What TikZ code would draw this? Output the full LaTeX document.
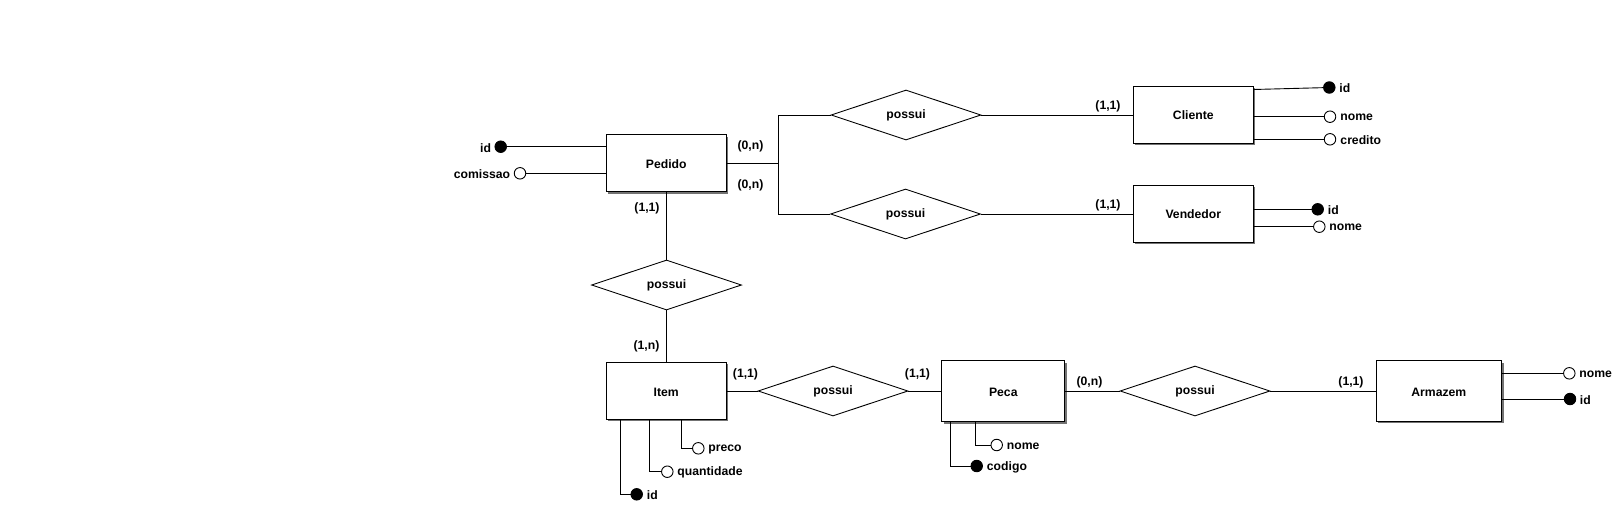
\documentclass[tikz,border=0pt]{standalone}
\usepackage{fontspec}
\setmainfont{Liberation Sans}
\usetikzlibrary{shapes.geometric,shadows}
\begin{document}
\begin{tikzpicture}[x=1pt,y=-1pt, line width=0.9pt,
  every node/.style={font=\fontsize{12.2}{14}\selectfont\bfseries},
  entity/.style={draw, fill=white, rectangle, minimum width=120pt, minimum height=57pt, inner sep=0pt,
    text height=10.9pt, text depth=0pt,
    drop shadow={shadow xshift=2pt,shadow yshift=-2pt,fill=black!55,opacity=1}},
  rel/.style={draw, diamond, shape aspect=3, minimum width=150pt, minimum height=50pt, inner sep=0pt},
  attr/.style={circle, draw, fill=white, minimum size=11.5pt, inner sep=0pt},
  key/.style={circle, draw, fill=black, minimum size=11.5pt, inner sep=0pt},
  card/.style={inner sep=0pt, yshift=-1pt},
  lbl/.style={inner sep=0pt, yshift=-1pt}
]
\useasboundingbox (0,0) rectangle (1621,507);

% entities
\node[entity] (pedido) at (666.2,163.3) {Pedido};
\node[entity] (cliente) at (1193.3,114.5) {Cliente};
\node[entity] (vendedor) at (1193.3,213.5) {Vendedor};
\node[entity] (item) at (666.2,390.8) {Item};
\node[entity, minimum width=123pt, minimum height=61pt] (peca) at (1003.3,391.2) {Peca};
\node[entity, minimum width=125.5pt, minimum height=60.5pt] (armazem) at (1438.8,390.8) {Armazem};

% relationships
\node[rel] (r1) at (666.5,285) {possui};
\node[rel] (r2) at (906,115) {possui};
\node[rel] (r3) at (905.5,214) {possui};
\node[rel] (r4) at (833,391) {possui};
\node[rel] (r5) at (1195,391) {possui};

% connectors
\coordinate (br) at (778.3,163.3);
\draw (pedido.east) -- (br);
\draw (r2.west) -| (br) |- (r3.west);
\draw (r2.east) -- (r2.east -| cliente.west);
\draw (r3.east) -- (r3.east -| vendedor.west);
\draw (r1.north) -- (r1.north |- pedido.south);
\draw (r1.south) -- (r1.south |- item.north);
\draw (r4.west) -- (r4.west -| item.east);
\draw (r4.east) -- (r4.east -| peca.west);
\draw (r5.west) -- (r5.west -| peca.east);
\draw (r5.east) -- (r5.east -| armazem.west);

% cardinalities
\node[card] (c1) at (750.5,145.5) {(0,n)};
\node[card] (c2) at (750.5,184.5) {(0,n)};
\node[card] (c3) at (647,207) {(1,1)};
\node[card] (c4) at (646.5,345.5) {(1,n)};
\node[card] (c5) at (1108,105.5) {(1,1)};
\node[card] (c6) at (1108,204.5) {(1,1)};
\node[card] (c7) at (745.5,373) {(1,1)};
\node[card] (c8) at (917.5,373) {(1,1)};
\node[card] (c9) at (1089.5,381.5) {(0,n)};
\node[card] (c10) at (1351,381.5) {(1,1)};

% Pedido attributes
\node[key] (pid) at (500.7,146.7) {};
\node[lbl, anchor=east] (pidl) at (491.5,146.7) {id};
\draw (pid) -- (pid -| pedido.west);
\node[attr] (pcom) at (520,173.3) {};
\node[lbl, anchor=east] (pcoml) at (510.5,173.3) {comissao};
\draw (pcom) -- (pcom -| pedido.west);

% Cliente attributes
\node[key] (cid) at (1329.3,87.5) {};
\node[lbl, anchor=west] (cidl) at (1339,87.5) {id};
\coordinate (cidb) at (1253.3,89.5);
\draw (cid) -- (cidb);
\node[attr] (cnome) at (1330,116.7) {};
\node[lbl, anchor=west] (cnomel) at (1340,116.7) {nome};
\draw (cnome) -- (cnome -| cliente.east);
\node[attr] (ccred) at (1330,139.3) {};
\node[lbl, anchor=west] (ccredl) at (1340,139.3) {credito};
\draw (ccred) -- (ccred -| cliente.east);

% Vendedor attributes
\node[key] (vid) at (1317.7,209.3) {};
\node[lbl, anchor=west] (vidl) at (1327.5,209.3) {id};
\draw (vid) -- (vid -| vendedor.east);
\node[attr] (vnome) at (1319.3,226.7) {};
\node[lbl, anchor=west] (vnomel) at (1329,226.7) {nome};
\draw (vnome) -- (vnome -| vendedor.east);

% Item attributes
\node[attr] (ipreco) at (698.3,448.3) {};
\node[lbl, anchor=west] (iprecol) at (708,448.3) {preco};
\draw (ipreco) -| ([xshift=15.5pt]item.south);
\node[attr] (iqtd) at (667.3,471.7) {};
\node[lbl, anchor=west] (iqtdl) at (677,471.7) {quantidade};
\draw (iqtd) -| ([xshift=-16.9pt]item.south);
\node[key] (iid) at (636.7,494.3) {};
\node[lbl, anchor=west] (iidl) at (646.5,494.3) {id};
\draw (iid) -| ([xshift=-46.2pt]item.south);

% Peca attributes
\node[attr] (pnome) at (996.7,445) {};
\node[lbl, anchor=west] (pnomel) at (1006.5,445) {nome};
\draw (pnome) -| ([xshift=-27.6pt]peca.south);
\node[key] (pcod) at (976.7,466) {};
\node[lbl, anchor=west] (pcodl) at (986.5,466) {codigo};
\draw (pcod) -| ([xshift=-53.3pt]peca.south);

% Armazem attributes
\node[attr] (anome) at (1569.3,373.3) {};
\node[lbl, anchor=west] (anomel) at (1579,373.3) {nome};
\draw (anome) -- (anome -| armazem.east);
\node[key] (aid) at (1570,399) {};
\node[lbl, anchor=west] (aidl) at (1579.5,399) {id};
\draw (aid) -- (aid -| armazem.east);
\end{tikzpicture}
\end{document}
